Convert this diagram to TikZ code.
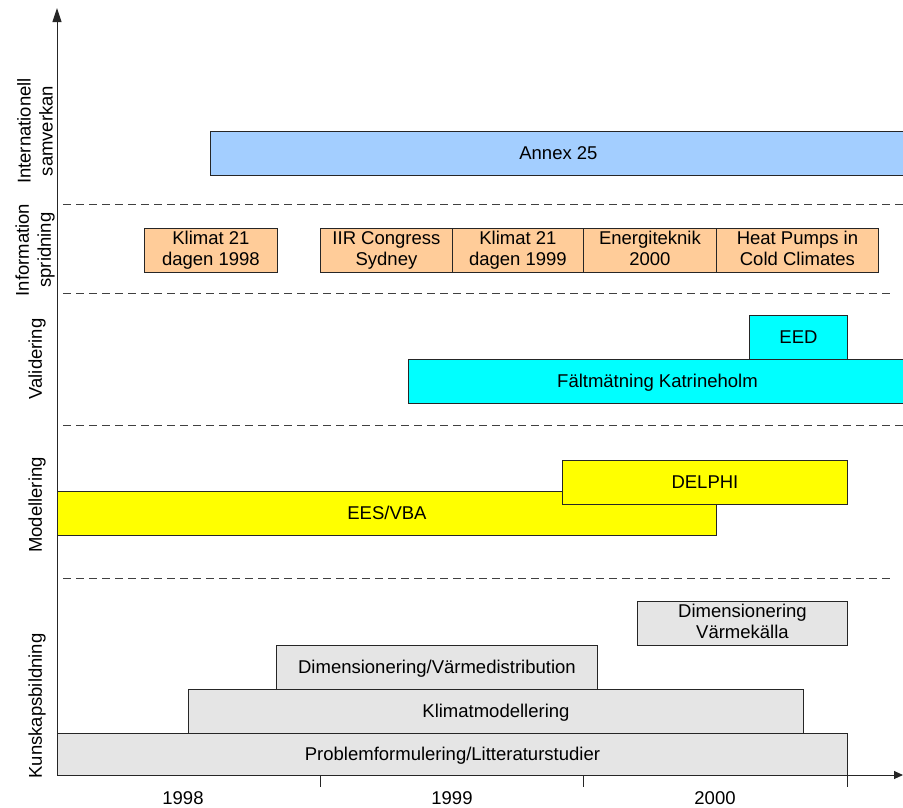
\documentclass[tikz,border=0pt]{standalone}
\usepackage{fontspec}
\setmainfont{Liberation Sans}
\usetikzlibrary{arrows.meta}
\definecolor{annexblue}{RGB}{163,206,255}
\definecolor{peach}{RGB}{255,204,153}
\definecolor{cyanbar}{RGB}{0,255,255}
\definecolor{yellowbar}{RGB}{255,255,0}
\definecolor{graybar}{RGB}{229,229,229}
\newcommand\barstrut{\rule[-4.2pt]{0pt}{21pt}}
\begin{document}
\begin{tikzpicture}[x=1pt,y=-1pt,
  bar/.style={draw=black!85, line width=0.9pt, inner sep=0pt, anchor=north west, align=center,
    minimum height=44pt, font=\fontsize{18.5}{21}\selectfont,
    execute at begin node=\barstrut, execute at end node=\barstrut},
  sepline/.style={dash pattern=on 8pt off 5pt, line width=0.9pt, draw=black!75},
  lab/.style={rotate=90, align=center, font=\fontsize{18.5}{22}\selectfont},
  year/.style={font=\fontsize{18.5}{21}\selectfont},
  axis/.style={line width=1pt, draw=black!85}]
\useasboundingbox (0,0) rectangle (903,807);
% separators
\draw[sepline] (63,204) -- (903,204);
\draw[sepline] (63,293) -- (890,293);
\draw[sepline] (63,425) -- (903,425);
\draw[sepline] (63,578) -- (890,578);
% Internationell samverkan
\node[bar, fill=annexblue, minimum width=696pt] (annex) at (210,131) {Annex 25};
% Information spridning
\node[bar, fill=peach, minimum width=133pt] (k98) at (144,228) {Klimat 21\\dagen 1998};
\node[bar, fill=peach, minimum width=132pt] (iir) at (320,228) {IIR Congress\\Sydney};
\node[bar, fill=peach, minimum width=131pt] (k99) at (452,228) {Klimat 21\\dagen 1999};
\node[bar, fill=peach, minimum width=133pt] (energi) at (583,228) {Energiteknik\\2000};
\node[bar, fill=peach, minimum width=162pt] (hp) at (716,228) {Heat Pumps in\\Cold Climates};
% Validering
\node[bar, fill=cyanbar, minimum width=498pt] (falt) at (408,359) {Fältmätning Katrineholm};
\node[bar, fill=cyanbar, minimum width=98pt] (eed) at (749,315) {EED};
% Modellering
\node[bar, fill=yellowbar, minimum width=659pt] (ees) at (57,491) {EES/VBA};
\node[bar, fill=yellowbar, minimum width=285pt] (delphi) at (562,460) {DELPHI};
% Kunskapsbildning
\node[bar, fill=graybar, minimum width=210pt] (dimvk) at (637,601) {Dimensionering\\Värmekälla};
\node[bar, fill=graybar, minimum width=321pt] (dimvd) at (276,645) {Dimensionering/Värmedistribution};
\node[bar, fill=graybar, minimum width=615pt] (klimat) at (188,689) {Klimatmodellering};
\node[bar, fill=graybar, minimum width=790pt, minimum height=42pt] (problem) at (57,733) {Problemformulering/Litteraturstudier};
% axes
\coordinate (O) at (57,775);
\coordinate (ytop) at (57,8);
\coordinate (xend) at (903,775);
\draw[axis, -{Triangle[length=14pt,width=9pt]}] (O) -- (ytop);
\draw[axis, -{Triangle[length=9pt,width=8pt]}] (O) -- (xend);
\coordinate (t1) at (320,775); \coordinate (t1b) at (320,787);
\coordinate (t2) at (583,775); \coordinate (t2b) at (583,787);
\coordinate (t3) at (847,775); \coordinate (t3b) at (847,787);
\draw[axis] (t1) -- (t1b);
\draw[axis] (t2) -- (t2b);
\draw[axis] (t3) -- (t3b);
\node[year] (y98) at (183,798) {1998};
\node[year] (y99) at (452,798) {1999};
\node[year] (y00) at (715,798) {2000};
% category labels
\node[lab] (cint) at (35,131) {Internationell\\samverkan};
\node[lab] (cinfo) at (35,250) {Information\\spridning};
\node[lab] (cval) at (37,359) {Validering};
\node[lab] (cmod) at (37,505) {Modellering};
\node[lab] (ckun) at (37,706) {Kunskapsbildning};
\end{tikzpicture}
\end{document}
